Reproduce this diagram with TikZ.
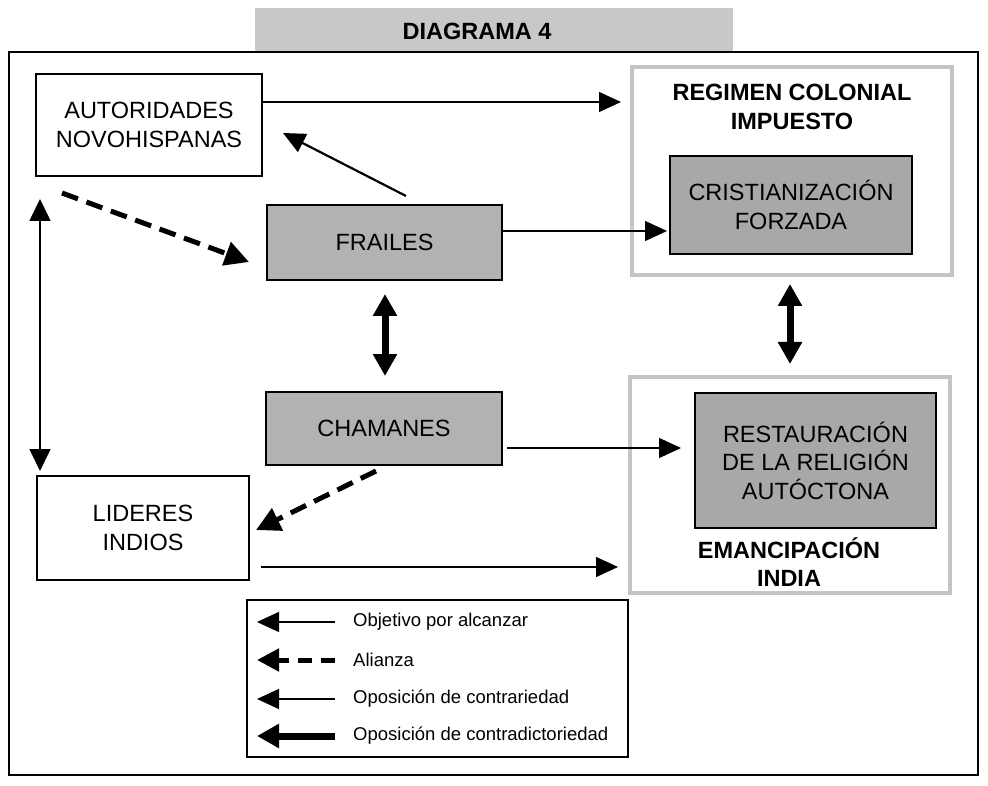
\documentclass[tikz,border=0pt]{standalone}
\usepackage{fontspec}
\setmainfont{Liberation Sans}
\usetikzlibrary{arrows.meta,calc}

\definecolor{boxfill}{RGB}{178,178,178}
\definecolor{innerfill}{RGB}{168,168,168}
\definecolor{titlefill}{RGB}{200,200,200}
\definecolor{groupline}{RGB}{196,196,196}

\begin{document}
\begin{tikzpicture}[x=1pt,y=-1pt,
  box/.style={draw=black, line width=2pt, align=center, inner sep=0pt,
    font=\fontsize{23.5}{28.5}\selectfont},
  whitebox/.style={box, fill=white},
  graybox/.style={box, fill=boxfill},
  innerbox/.style={box, fill=innerfill},
  groupbox/.style={draw=groupline, line width=4pt, fill=white, inner sep=0pt},
  grouplabel/.style={align=center, inner sep=0pt,
    font=\bfseries\fontsize{23.5}{28.5}\selectfont},
  legendtext/.style={anchor=west, inner sep=0pt, font=\fontsize{18.5}{22}\selectfont},
  goal/.style={draw, line width=1.4pt, -{Triangle[length=22pt,width=20pt]}},
  ally/.style={draw, line width=5pt, dash pattern=on 17pt off 9pt,
    -{Triangle[length=24pt,width=24pt]}},
  contrary/.style={draw, line width=1.6pt,
    {Triangle[length=22pt,width=21pt]}-{Triangle[length=22pt,width=21pt]}},
  contradict/.style={draw, line width=7pt,
    {Triangle[length=22pt,width=23pt]}-{Triangle[length=22pt,width=23pt]}},
  legendgoal/.style={draw, line width=1.4pt, -{Triangle[length=22pt,width=20pt]}},
  legendally/.style={draw, line width=5pt, dash pattern=on 14pt off 9pt,
    -{Triangle[length=22pt,width=22pt]}},
  legendthick/.style={draw, line width=7pt, -{Triangle[length=22pt,width=23pt]}}
]
\useasboundingbox (0,0) rectangle (988,786);
\fill[white] (0,0) rectangle (988,786);

% title strip and frame
\fill[titlefill] (255,8) rectangle (733,52);
\node[font=\bfseries\fontsize{23.5}{28}\selectfont, inner sep=0pt] (title) at (477,31) {DIAGRAMA 4};
\draw[line width=2pt] (9,52) rectangle (978,775);

% group frames on the right
\node[groupbox, minimum width=320pt, minimum height=208pt] (regim) at (792,171) {};
\node[groupbox, minimum width=320pt, minimum height=216pt] (emanc) at (790,485) {};
\node[grouplabel] (regimlab) at (792,107) {REGIMEN COLONIAL\\IMPUESTO};
\node[grouplabel] (emanclab) at (789,562) {EMANCIPACIÓN\\INDIA};

% actors and goals
\node[whitebox, minimum width=226pt, minimum height=102pt] (auto) at (149,125) {AUTORIDADES\\NOVOHISPANAS};
\node[graybox, minimum width=235pt, minimum height=75pt] (frail) at (384.5,242.5) {FRAILES};
\node[graybox, minimum width=236pt, minimum height=73pt] (cham) at (384,428.5) {CHAMANES};
\node[whitebox, minimum width=212pt, minimum height=104pt] (lider) at (143,528) {LIDERES\\INDIOS};
\node[innerbox, minimum width=242pt, minimum height=98pt] (crist) at (791,205) {CRISTIANIZACIÓN\\FORZADA};
\node[innerbox, minimum width=241pt, minimum height=135pt] (rest) at (815.5,460.5) {RESTAURACIÓN\\DE LA RELIGIÓN\\AUTÓCTONA};

% goals
\draw[goal] (auto.east |- 0,102) -- ([xshift=-9pt]regim.west |- 0,102);
\draw[goal] (frail.east |- 0,231) -- ([xshift=-2pt]crist.west |- 0,231);
\draw[goal] ([xshift=4pt]cham.east |- 0,448) -- ([xshift=-13pt]rest.west |- 0,448);
\draw[goal] ([xshift=11pt]lider.east |- 0,567) -- ([xshift=-10pt]emanc.west |- 0,567);
\draw[goal, line width=2.2pt] ($(frail.north west)+(140,-8)$) -- ($(auto.south east)+(20,-44)$);

% alliances
\draw[ally] ($(auto.south west)+(27,16)$) -- ($(frail.west)+(-17,19.5)$);
\draw[ally] ($(cham.south west)+(111,5)$) -- ($(lider.east)+(6,2)$);

% oppositions
\draw[contrary] ($(auto.south west)+(5,22)$) -- ($(lider.north west)+(4,-4)$);
\draw[contradict] ($(frail.south)+(0.5,13)$) -- ($(cham.north)+(1,-15)$);
\draw[contradict] ($(crist.south)+(-1,29)$) -- ($(rest.north)+(-25.5,-28)$);

% legend
\node[draw, line width=2pt, minimum width=381pt, minimum height=157pt, inner sep=0pt] (legend) at (437.5,678.5) {};
\node[legendtext] (l1) at (353,622) {Objetivo por alcanzar};
\node[legendtext] (l2) at (353,660) {Alianza};
\node[legendtext] (l3) at (353,699) {Oposición de contrariedad};
\node[legendtext] (l4) at (353,736) {Oposición de contradictoriedad};
\draw[legendgoal] ($(l1.west)+(-18,0)$) -- ($(l1.west)+(-96,0)$);
\draw[legendally] ($(l2.west)+(-18,0)$) -- ($(l2.west)+(-96,0)$);
\draw[legendgoal] ($(l3.west)+(-18,0)$) -- ($(l3.west)+(-96,0)$);
\draw[legendthick] ($(l4.west)+(-18,0)$) -- ($(l4.west)+(-96,0)$);
\end{tikzpicture}
\end{document}
